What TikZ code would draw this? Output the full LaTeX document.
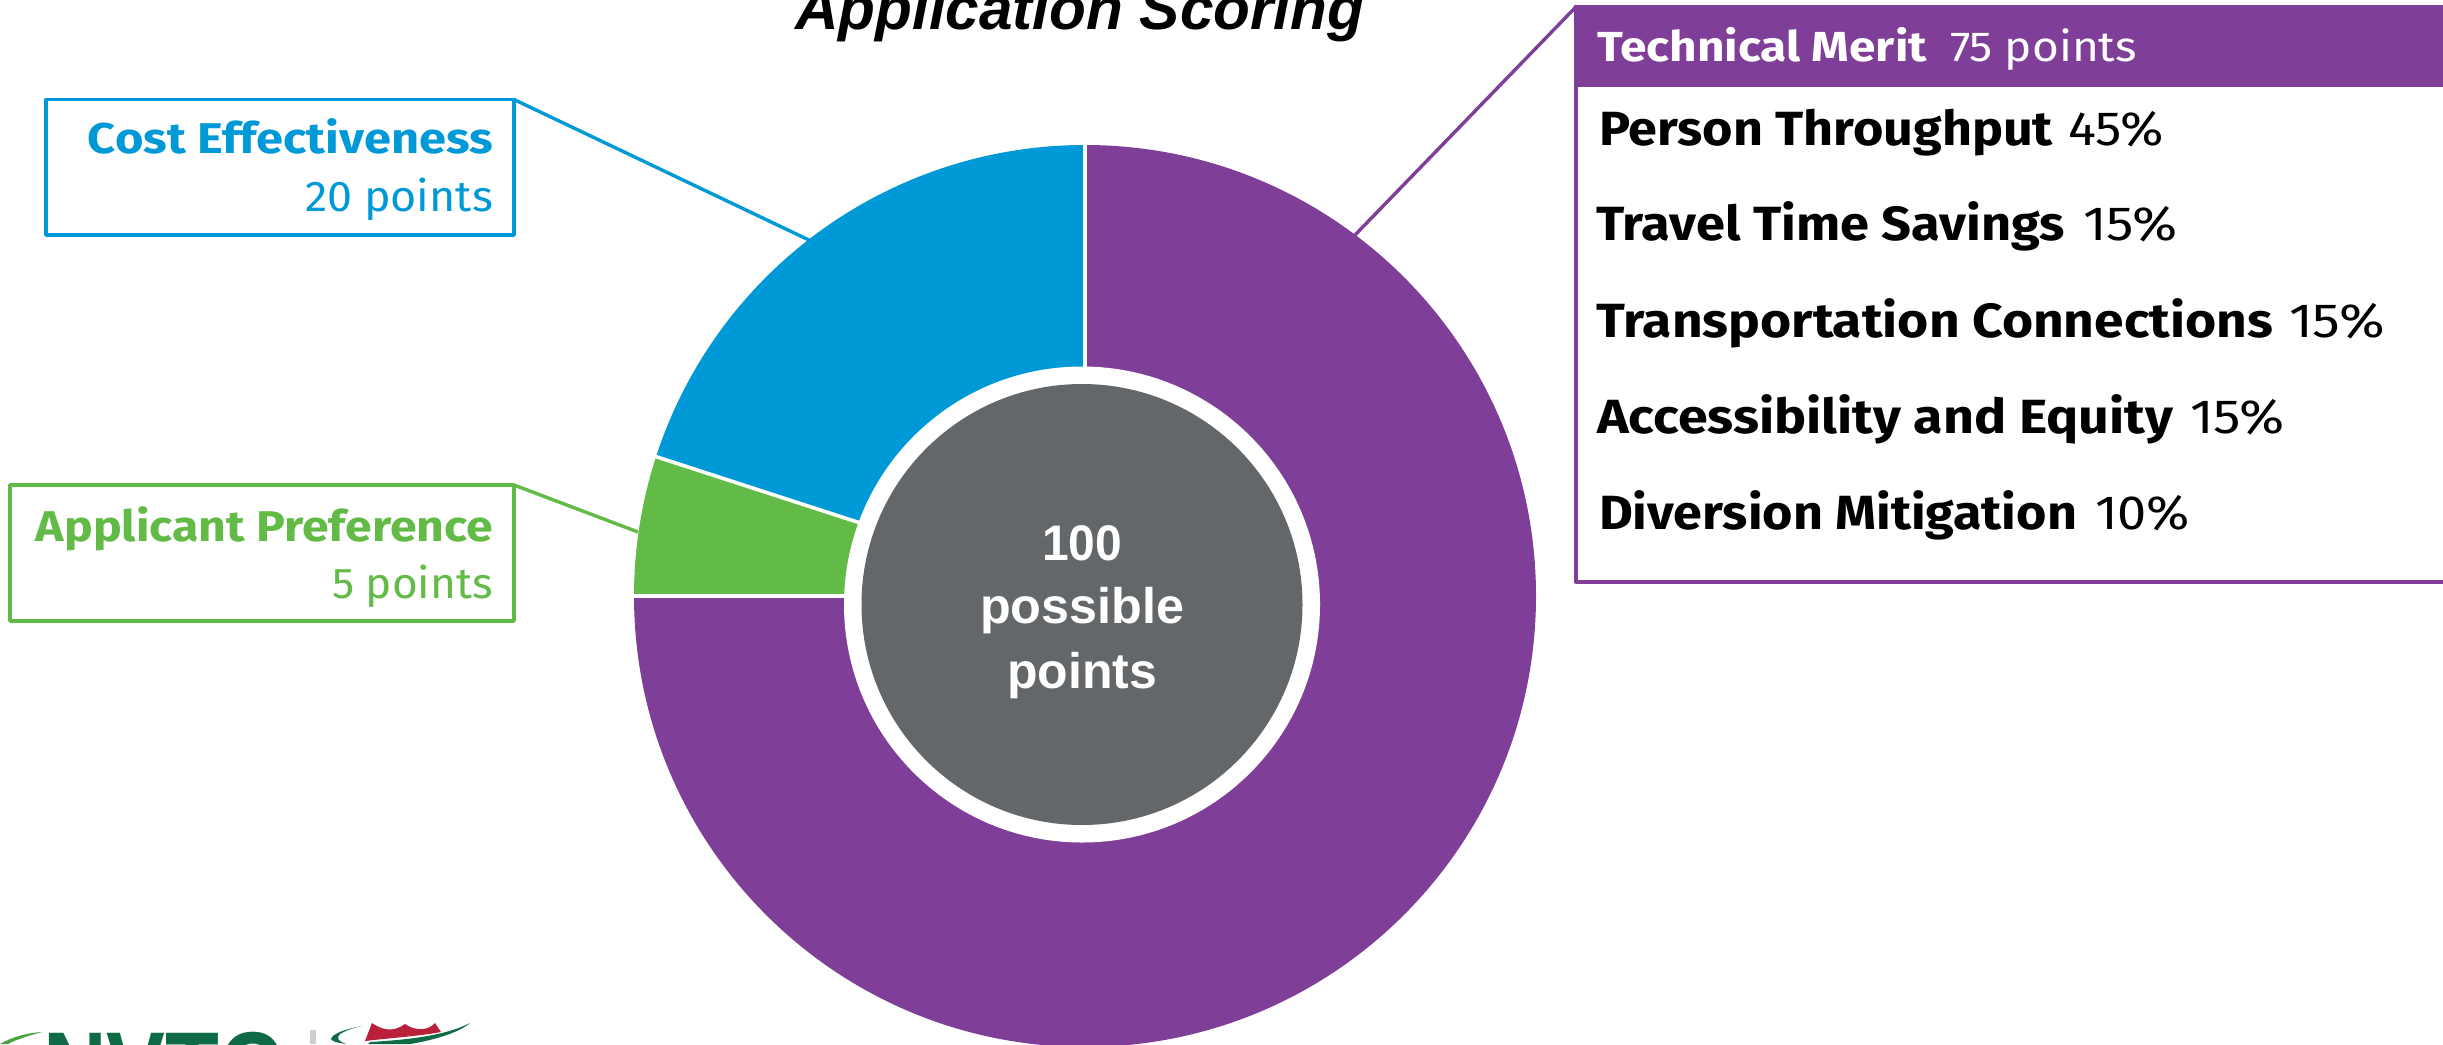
\documentclass[tikz,border=0pt]{standalone}
\usepackage{fontspec}
\usepackage{graphicx}
\setmainfont[Ligatures=NoCommon]{Fira Sans}
\newfontfamily\arialf{Liberation Sans}
\definecolor{cpurple}{HTML}{7F3F98}
\definecolor{cblue}{HTML}{0099D8}
\definecolor{cgreen}{HTML}{62BB46}
\definecolor{cgray}{HTML}{636769}
\definecolor{lgreen}{HTML}{0E6B45}
\definecolor{lred}{HTML}{B9203A}
\definecolor{lbar}{HTML}{CFCFCF}
\newcommand{\fitw}[2]{\resizebox{#1pt}{\height}{#2}}
\tikzset{
  txt/.style={inner sep=0pt,outer sep=0pt,anchor=base west},
  txtr/.style={inner sep=0pt,outer sep=0pt,anchor=base east},
  sz/.style={font=\fontsize{#1}{#1}\selectfont},
  callout/.style={draw=#1,line width=3.6pt,fill=white,inner sep=0pt,outer sep=0pt,anchor=north west,line join=round},
  leader/.style={draw=#1,line width=3.4pt},
  sep/.style={draw=white,line width=3.6pt},
  midtxt/.style={inner sep=0pt,outer sep=0pt,anchor=base,text=white,font=\arialf\fontsize{50}{50}\selectfont\bfseries}
}
\begin{document}
\begin{tikzpicture}[x=1pt,y=-1pt]
\useasboundingbox (0,0) rectangle (2443,1044);
\clip (0,0) rectangle (2443,1044);
\fill[white] (0,0) rectangle (2443,1044);

% title
\node[inner sep=0pt,anchor=base west,font=\arialf\fontsize{60}{60}\selectfont\bfseries\itshape] (title) at (795,29) {\fitw{569}{Application Scoring}};

% doughnut
\coordinate (C) at (1085,596);
\fill[cpurple] (C) -- ++(90:451pt) arc[start angle=90,end angle=-180,radius=451pt] -- cycle;
\fill[cblue] (C) -- ++(90:451pt) arc[start angle=90,end angle=162,radius=451pt] -- cycle;
\fill[cgreen] (C) -- ++(162:451pt) arc[start angle=162,end angle=180,radius=451pt] -- cycle;
\path (C) ++(90:452pt) coordinate (E1);
\path (C) ++(162:452pt) coordinate (E2);
\path (C) ++(180:452pt) coordinate (E3);
\draw[sep] (C) -- (E1);
\draw[sep] (C) -- (E2);
\draw[sep] (C) -- (E3);
\coordinate (M) at (1082,604.5);
\fill[white] (M) circle[radius=238pt];
\fill[cgray] (M) circle[radius=220.5pt];
\node[midtxt] (m1) at (1082,560) {\fitw{80}{100}};
\node[midtxt] (m2) at (1082,623) {\fitw{204}{possible}};
\node[midtxt] (m3) at (1082,688) {\fitw{150}{points}};

% blue callout
\node[callout=cblue,minimum width=468pt,minimum height=135.5pt] (bluebox) at (46,99.5) {};
\coordinate (bluehit) at (811,241);
\draw[leader=cblue] (bluebox.north east) -- (bluehit);
\node[txtr,sz=43,text=cblue] (t1) at (493,153.7) {\fitw{405}{\bfseries Cost Effectiveness}};
\node[txtr,sz=43,text=cblue] (t2) at (493,211.4) {\fitw{188}{20 points}};

% green callout
\node[callout=cgreen,minimum width=504pt,minimum height=136pt] (greenbox) at (10,485) {};
\coordinate (greenhit) at (638,532);
\draw[leader=cgreen] (greenbox.north east) -- (greenhit);
\node[txtr,sz=43,text=cgreen] (t3) at (493,541.5) {\fitw{457}{\bfseries Applicant Preference}};
\node[txtr,sz=43,text=cgreen] (t4) at (493,598.5) {\fitw{161}{5 points}};

% purple callout
\node[callout=cpurple,minimum width=1000pt,minimum height=575pt] (purplebox) at (1576,6.8) {};
\node[fill=cpurple,inner sep=0pt,outer sep=0pt,anchor=north west,minimum width=1000pt,minimum height=82pt] (purplehead) at (1574,5) {};
\coordinate (purplehit) at (1355,235);
\draw[leader=cpurple] (purplebox.north west) -- (purplehit);
\node[txt,sz=42,text=white] (h1) at (1597,61.5) {\fitw{330}{\bfseries Technical Merit}};
\node[txt,sz=42,text=white] (h2) at (1950,61.5) {\fitw{187}{75 points}};

\node[txt,sz=48] (a1) at (1599,145) {\fitw{454}{\bfseries Person Throughput}};
\node[txt,sz=48] (a2) at (2068,145) {\fitw{96}{45\%}};
\node[txt,sz=48] (b1) at (1596,240) {\fitw{469}{\bfseries Travel Time Savings}};
\node[txt,sz=48] (b2) at (2083,240) {\fitw{95}{15\%}};
\node[txt,sz=48] (c1) at (1596,337) {\fitw{677}{\bfseries Transportation Connections}};
\node[txt,sz=48] (c2) at (2289,337) {\fitw{96}{15\%}};
\node[txt,sz=48] (d1) at (1597,433) {\fitw{576}{\bfseries Accessibility and Equity}};
\node[txt,sz=48] (d2) at (2190,433) {\fitw{95}{15\%}};
\node[txt,sz=48] (e1) at (1599,529) {\fitw{478}{\bfseries Diversion Mitigation}};
\node[txt,sz=48] (e2) at (2095,529) {\fitw{95}{10\%}};

% logo, cropped by the lower edge
\fill[cgreen!70!lgreen] (0,1044) .. controls (10,1038) and (25,1033) .. (42,1032) .. controls (28,1036) and (15,1040) .. (8,1044) -- cycle;
\node[txt,font=\arialf\fontsize{105}{105}\selectfont\bfseries,text=lgreen] (nv) at (43,1105) {\fitw{240}{NVTC}};
\fill[lbar] (310,1030) rectangle (316,1044);
\fill[lred] (372,1023) .. controls (385,1032) and (395,1031) .. (405,1024) .. controls (415,1031) and (428,1031) .. (435,1023) -- (441,1032) .. controls (420,1036) and (390,1038) .. (365,1041) -- cycle;
\fill[lgreen] (470,1023) .. controls (445,1036) and (405,1040) .. (370,1042) -- (368,1044) -- (410,1044) .. controls (435,1040) and (460,1032) .. (470,1023) -- cycle;
\fill[lgreen] (362,1026) .. controls (345,1029) and (332,1034) .. (331,1039) .. controls (332,1042) and (340,1043) .. (346,1044) .. controls (338,1041) and (336,1038) .. (340,1034) .. controls (345,1031) and (352,1028) .. (362,1026) -- cycle;
\end{tikzpicture}
\end{document}
